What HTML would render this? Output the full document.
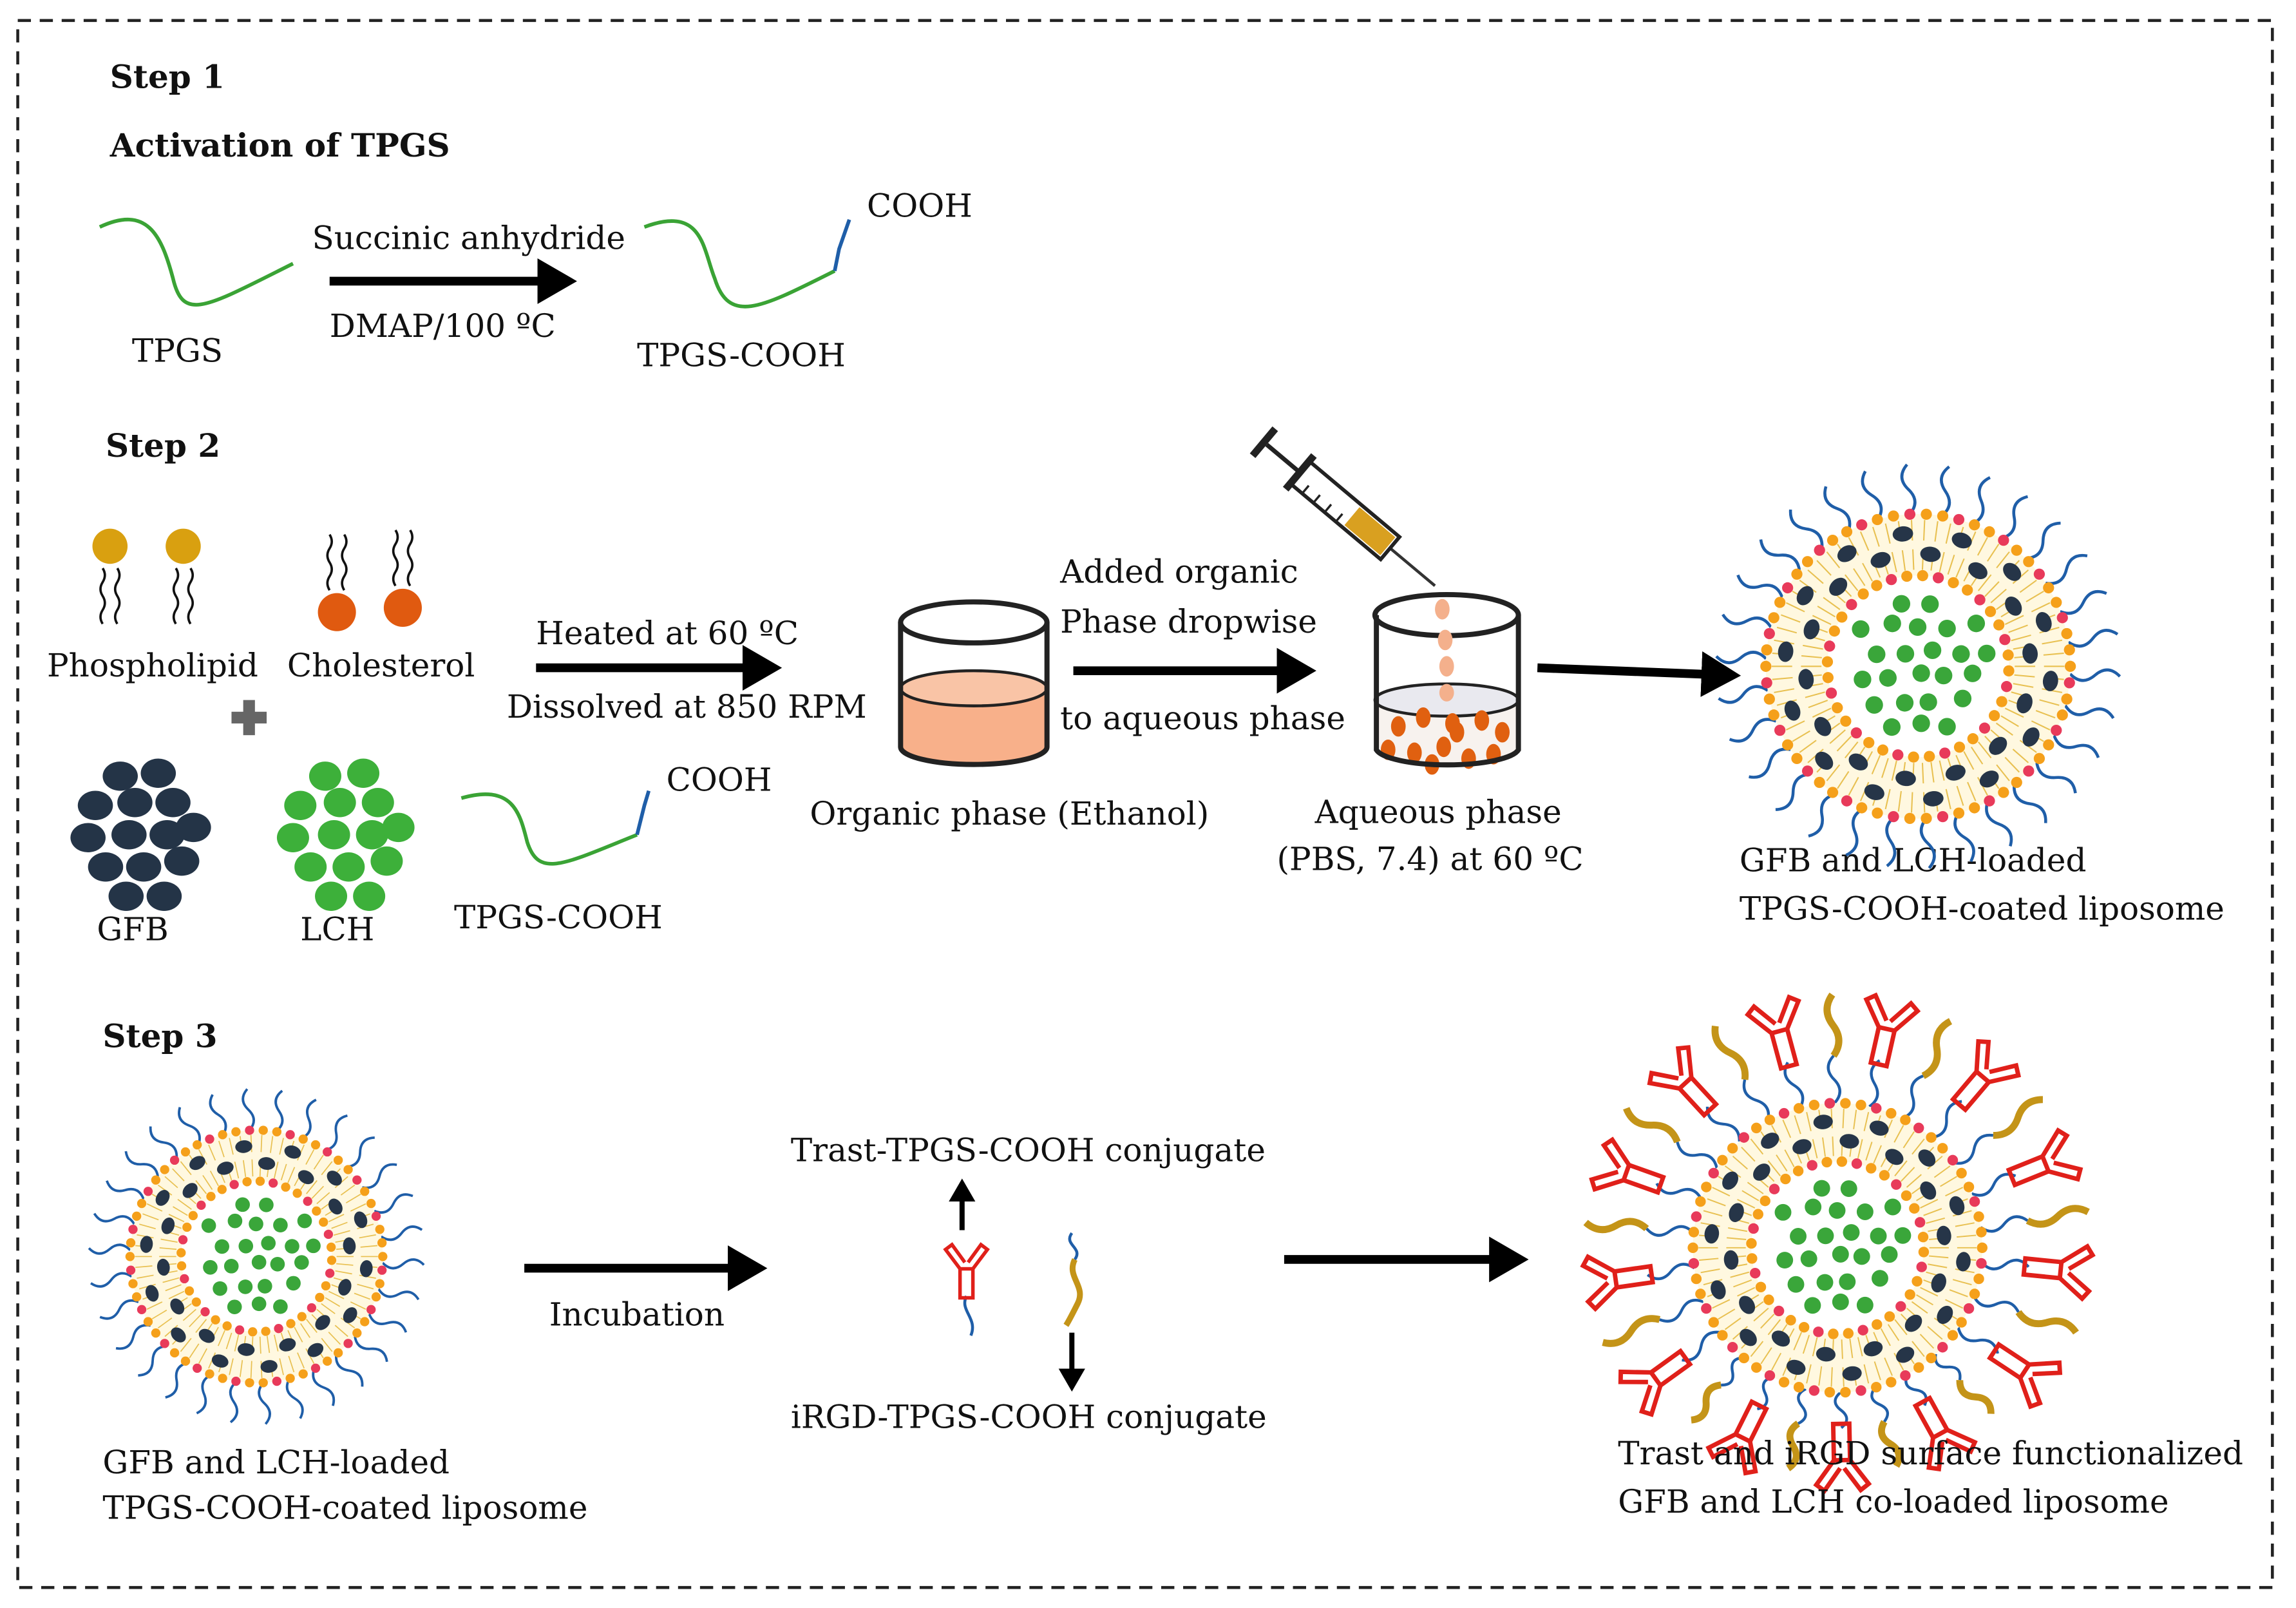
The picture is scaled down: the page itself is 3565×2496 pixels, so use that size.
<!DOCTYPE html>
<html><head><meta charset="utf-8">
<style>
html,body{margin:0;padding:0;background:#fff;}
svg{display:block;}
svg text{font-family:"DejaVu Serif","Liberation Serif",serif !important;fill:#111;}
</style></head>
<body>
<svg id="s" width="3565" height="2496" viewBox="0 0 1568 1098" xmlns="http://www.w3.org/2000/svg">
<defs>
<marker id="ah" markerWidth="6" markerHeight="6" refX="3" refY="3" orient="auto" markerUnits="strokeWidth">
<path d="M0,0.4 L4.5,3 L0,5.6 Z" fill="#000"/></marker>
</defs>
<rect x="12" y="14" width="1540" height="1070" fill="none" stroke="#222" stroke-width="2" stroke-dasharray="9,6"/>

<g font-size="22">
<text x="75" y="60" font-weight="bold" font-size="22">Step 1</text>
<text x="75" y="107" font-weight="bold" font-size="22">Activation of TPGS</text>
<text x="72" y="312" font-weight="bold" font-size="22">Step 2</text>
<text x="70" y="715" font-weight="bold" font-size="22">Step 3</text>

<text x="90" y="247">TPGS</text>
<text x="213" y="170">Succinic anhydride</text>
<text x="225" y="230">DMAP/100 ºC</text>
<text x="592" y="148">COOH</text>
<text x="435" y="250">TPGS-COOH</text>

<text x="32" y="462">Phospholipid</text>
<text x="196" y="462">Cholesterol</text>
<text x="66" y="642">GFB</text>
<text x="205" y="642">LCH</text>
<text x="310" y="634">TPGS-COOH</text>
<text x="455" y="540">COOH</text>
<text x="366" y="440">Heated at 60 ºC</text>
<text x="346" y="490">Dissolved at 850 RPM</text>
<text x="553" y="563">Organic phase (Ethanol)</text>
<text x="724" y="398">Added organic</text>
<text x="724" y="432">Phase dropwise</text>
<text x="724" y="498">to aqueous phase</text>
<text x="898" y="562">Aqueous phase</text>
<text x="872" y="594">(PBS, 7.4) at 60 ºC</text>
<text x="1188" y="595">GFB and LCH-loaded</text>
<text x="1188" y="628">TPGS-COOH-coated liposome</text>

<text x="70" y="1006">GFB and LCH-loaded</text>
<text x="70" y="1037">TPGS-COOH-coated liposome</text>
<text x="375" y="905">Incubation</text>
<text x="540" y="793">Trast-TPGS-COOH conjugate</text>
<text x="540" y="975">iRGD-TPGS-COOH conjugate</text>
</g>

<path d="M68,155 C100,140 110,160 118,190 C125,220 140,210 200,180" fill="none" stroke="#3aa335" stroke-width="2.5"/>
<path d="M440,155 C480,140 480,170 488,190 C498,222 520,210 570,185" fill="none" stroke="#3aa335" stroke-width="2.5"/>
<path d="M570,185 L573,170 L580,150" fill="none" stroke="#1f5ea8" stroke-width="2.5"/>
<line x1="225" y1="192" x2="385" y2="192" stroke="#000" stroke-width="6" marker-end="url(#ah)"/>

<path d="M315,545 C350,535 355,555 360,575 C368,600 385,590 435,570" fill="none" stroke="#3aa335" stroke-width="2.5"/>
<path d="M435,570 L440,550 L443,540" fill="none" stroke="#1f5ea8" stroke-width="2.5"/>
<g id="lipids"></g>
<rect x="158" y="486" width="24" height="8" fill="#666"/><rect x="166" y="478" width="8" height="24" fill="#666"/>
<g id="clusters"></g>
<line x1="366" y1="456" x2="525" y2="456" stroke="#000" stroke-width="6" marker-end="url(#ah)"/>
<line x1="733" y1="458" x2="890" y2="458" stroke="#000" stroke-width="6" marker-end="url(#ah)"/>
<line x1="1050" y1="456" x2="1180" y2="461" stroke="#000" stroke-width="6" marker-end="url(#ah)"/>

<path d="M615,470 L615,510 A50,12 0 0 0 715,510 L715,470 A50,12 0 0 1 615,470 Z" fill="#f8b08a"/>
<ellipse cx="665" cy="470" rx="50" ry="12" fill="#f9c4a6" stroke="#222" stroke-width="2"/>
<ellipse cx="665" cy="425" rx="50" ry="14" fill="none" stroke="#222" stroke-width="3.5"/>
<path d="M615,425 L615,510 A50,12 0 0 0 715,510 L715,425" fill="none" stroke="#222" stroke-width="3.5"/>

<path d="M940,478 L940,512 A49,12 0 0 0 1037,512 L1037,478 Z" fill="#f7f2ee"/>
<ellipse cx="988" cy="478" rx="49" ry="11" fill="#e9e9ef" stroke="#222" stroke-width="2"/>
<g id="odots"></g>
<ellipse cx="988" cy="420" rx="49" ry="14" fill="none" stroke="#222" stroke-width="3.5"/>
<path d="M940,420 L940,512 A49,12 0 0 0 1037,512 L1037,420" fill="none" stroke="#222" stroke-width="3.5"/>
<g fill="#f4b08c"><ellipse cx="985" cy="416" rx="5" ry="7"/><ellipse cx="987" cy="437" rx="5" ry="7"/><ellipse cx="988" cy="455" rx="5" ry="7"/><ellipse cx="988" cy="473" rx="5" ry="6"/></g>
<g transform="translate(980,400) rotate(-140)">
<line x1="0" y1="0" x2="40" y2="0" stroke="#333" stroke-width="2"/>
<rect x="40" y="-10" width="80" height="20" fill="#fff" stroke="#222" stroke-width="2.5"/>
<rect x="42" y="-8" width="32" height="16" fill="#d9a020"/>
<line x1="120" y1="0" x2="150" y2="0" stroke="#222" stroke-width="3"/>
<rect x="150" y="-12" width="5" height="24" fill="#222"/>
<rect x="118" y="-15" width="5" height="30" fill="#222"/>
<g stroke="#222" stroke-width="1.5"><line x1="80" y1="-10" x2="80" y2="-3"/><line x1="90" y1="-10" x2="90" y2="-3"/><line x1="100" y1="-10" x2="100" y2="-3"/><line x1="110" y1="-10" x2="110" y2="-3"/></g>
</g>

<line x1="358" y1="866" x2="515" y2="866" stroke="#000" stroke-width="6" marker-end="url(#ah)"/>
<line x1="877" y1="860" x2="1035" y2="860" stroke="#000" stroke-width="6" marker-end="url(#ah)"/>
<line x1="657" y1="840" x2="657" y2="810" stroke="#000" stroke-width="3.5" marker-end="url(#ah)"/>
<line x1="732" y1="910" x2="732" y2="945" stroke="#000" stroke-width="3.5" marker-end="url(#ah)"/>
<path d="M660,885 C655,895 668,900 663,912" fill="none" stroke="#1f5ea8" stroke-width="2"/>
<path d="M732,842 C726,850 740,852 734,860" fill="none" stroke="#1f5ea8" stroke-width="2"/>
<path d="M734,860 C728,872 742,878 736,890 C732,898 730,902 728,905" fill="none" stroke="#c49418" stroke-width="4"/>
<g id="ab1"></g>
<g id="lipo"></g>
<g font-size="22">
<text x="1105" y="1000">Trast and iRGD surface functionalized</text>
<text x="1105" y="1033">GFB and LCH co-loaded liposome</text>
</g>
</svg>
<script>
var NS="http://www.w3.org/2000/svg";
function el(p,t,a){var e=document.createElementNS(NS,t);for(var k in a)e.setAttribute(k,a[k]);p.appendChild(e);return e;}
var L=document.getElementById('lipids');
function wig(x,y1,y2){var d="M"+x+","+y1;var n=4,h=(y2-y1)/n;for(var i=0;i<n;i++){var dx=(i%2?-3:3);d+=" q"+dx+","+(h/2)+" 0,"+h;}return d;}
[[70,388],[80,388],[120,388],[130,388]].forEach(function(p){el(L,'path',{d:wig(p[0],p[1],p[1]+38),fill:'none',stroke:'#111','stroke-width':1.6});});
el(L,'circle',{cx:75,cy:373,r:12,fill:'#d9a010'});el(L,'circle',{cx:125,cy:373,r:12,fill:'#d9a010'});
[[225,365],[235,365],[270,362],[280,362]].forEach(function(p){el(L,'path',{d:wig(p[0],p[1],p[1]+38),fill:'none',stroke:'#111','stroke-width':1.6});});
el(L,'circle',{cx:230,cy:418,r:13,fill:'#e05a10'});el(L,'circle',{cx:275,cy:415,r:13,fill:'#e05a10'});
var C=document.getElementById('clusters');
var gp=[[82,530],[108,528],[65,550],[92,548],[118,548],[60,572],[88,570],[114,570],[132,565],[72,592],[98,592],[124,588],[86,612],[112,612]];
gp.forEach(function(p){el(C,'ellipse',{cx:p[0],cy:p[1],rx:12,ry:10,fill:'#243447'});});
gp.forEach(function(p){el(C,'ellipse',{cx:p[0]+140,cy:p[1],rx:11,ry:10,fill:'#3db03a'});});
var O=document.getElementById('odots');
[[955,496],[972,490],[992,494],[1012,492],[1026,500],[948,512],[966,514],[986,510],[1003,518],[1020,515],[978,522],[995,500]].forEach(function(p){el(O,'ellipse',{cx:p[0],cy:p[1],rx:5,ry:7,fill:'#e06010'});});

function antibody(g,x,y,ang,s){var t=el(g,'g',{transform:'translate('+x+','+y+') rotate('+ang+') scale('+s+')',fill:'none',stroke:'#e0201a','stroke-width':2.2});
el(t,'path',{d:'M-4,-16 L-13,-28 L-9,-31 L-1,-20'});el(t,'path',{d:'M4,-16 L13,-28 L9,-31 L1,-20'});
el(t,'rect',{x:-4,y:-16,width:8,height:18});return t;}
antibody(document.getElementById('ab1'),660,884,0,1.1);

var seed=7;function rnd(){seed=(seed*9301+49297)%233280;return seed/233280;}
var G=document.getElementById('lipo');
function wave(g,a,r1,r2,col,w){var c=Math.cos(a),sn=Math.sin(a),px=-sn,py=c;var n=2,d='M'+c*r1+','+sn*r1;
 for(var k=1;k<=n;k++){var rr=r1+(r2-r1)*k/n,rm=r1+(r2-r1)*(k-0.5)/n,o=(k%2?8:-8);
  d+=' Q'+(c*rm+px*o)+','+(sn*rm+py*o)+' '+c*rr+','+sn*rr;}
 el(g,'path',{d:d,fill:'none',stroke:col,'stroke-width':w});}
function lipo(cx,cy,s,dec){var g=el(G,'g',{transform:'translate('+cx+','+cy+') scale('+s+')'});
 var R=104,r=62,i,a;
 if(!dec){for(i=0;i<30;i++){a=i/30*2*Math.PI+0.05;wave(g,a,R,R+34,'#1f5ea8',2);}}
 if(dec){for(i=0;i<26;i++){a=i/26*2*Math.PI+0.1;var f=(Math.sin(a)>0.6)?0.75:1;
   var r1=R+34*f;wave(g,a,R,r1,'#1f5ea8',2);
   if(i%2==0){antibody(g,Math.cos(a)*r1,Math.sin(a)*r1,a*180/Math.PI+90,1.45);}
   else{wave(g,a,r1,R+34*f+44*f,'#c49418',5);}}}
 el(g,'circle',{cx:0,cy:0,r:(R+r)/2,fill:'none',stroke:'#fff8e0','stroke-width':R-r});
 for(i=0;i<70;i++){a=i/70*2*Math.PI;var c=Math.cos(a),sn=Math.sin(a);
  el(g,'line',{x1:c*(R-4),y1:sn*(R-4),x2:c*(R-18),y2:sn*(R-18),stroke:'#e8c050','stroke-width':0.9});
  el(g,'line',{x1:c*(r+4),y1:sn*(r+4),x2:c*(r+18),y2:sn*(r+18),stroke:'#e8c050','stroke-width':0.9});}
 for(i=0;i<58;i++){a=i/58*2*Math.PI;el(g,'circle',{cx:Math.cos(a)*R,cy:Math.sin(a)*R,r:3.8,fill:(i%3==1?'#e83a5a':'#f5a01a')});}
 for(i=0;i<36;i++){a=i/36*2*Math.PI+0.05;el(g,'circle',{cx:Math.cos(a)*r,cy:Math.sin(a)*r,r:3.8,fill:(i%3==1?'#e83a5a':'#f5a01a')});}
 for(i=0;i<28;i++){a=i/28*2*Math.PI+0.11;var rr=(i%2?77:91);el(g,'ellipse',{cx:Math.cos(a)*rr,cy:Math.sin(a)*rr,rx:5.2,ry:7,fill:'#263548',transform:'rotate('+(a*180/Math.PI)+' '+Math.cos(a)*rr+' '+Math.sin(a)*rr+')'});}
 seed=11;
 for(var gy=-44;gy<=44;gy+=17)for(var gx=-57;gx<=57;gx+=19){var ox=(Math.round(gy/17)%2?9:0);var x=gx+ox+(rnd()-0.5)*5,y=gy+(rnd()-0.5)*5;if(x*x+y*y<50*50&&rnd()>0.05)el(g,'circle',{cx:x,cy:y,r:6,fill:'#3aa63a'});}
}
lipo(1310,455,1,false);
lipo(175,858,0.83,false);
lipo(1255,852,0.95,true);
</script>
</body></html>
